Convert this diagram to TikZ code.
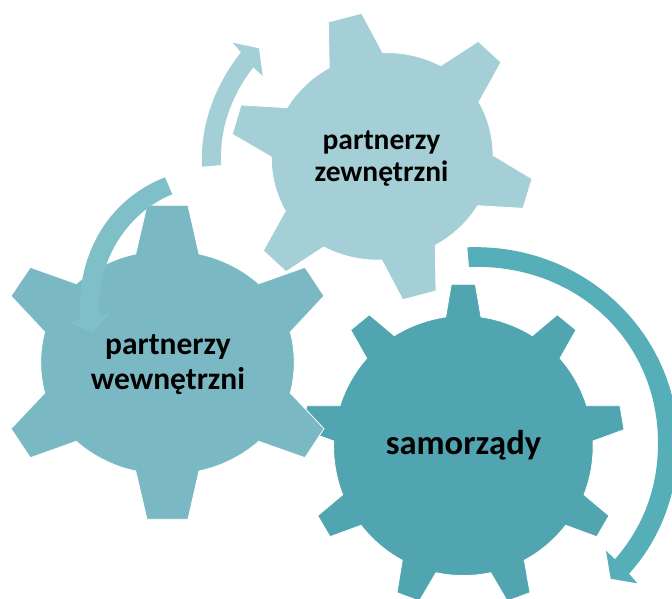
\documentclass[tikz,border=0pt]{standalone}
\usepackage{fontspec}
\setmainfont{Carlito}
\definecolor{lightgear}{HTML}{A5CFD6}
\definecolor{midgear}{HTML}{7AB9C3}
\definecolor{darkgear}{HTML}{50A5B0}
\definecolor{midarrow}{HTML}{7EBFC8}
\definecolor{darkarrow}{HTML}{56AEB9}
\tikzset{
  gearbox/.style={fill=#1,draw=white,line width=.8pt,line join=miter},
  bandbox/.style={fill=#1},
  rim/.style={bend left=15,looseness=.85},
  smallrim/.style={bend left=12,looseness=.85},
  gearlabel/.style 2 args={align=center,text=black,font=\bfseries\fontsize{#1}{#2}\selectfont}
}
\begin{document}
\begin{tikzpicture}[x=1pt,y=-1pt]
\useasboundingbox (0,0) rectangle (672,599);
% samorzady
\path[gearbox=darkgear] (445.7,317) -- (451.3,284.3) -- (475.3,284.3) -- (481,317)
  to[smallrim] (532.3,335.7) -- (557.3,314.7) -- (576,330) -- (560,358.3)
  to[smallrim] (586.7,405.7) -- (620,405.7) -- (624,429.7) -- (593,441)
  to[smallrim] (584,494.7) -- (609,515.7) -- (596.7,536.7) -- (565.7,525.3)
  to[smallrim] (524.3,560.3) -- (530,592.7) -- (507.3,601) -- (490.7,572.7)
  to[smallrim] (436,572.7) -- (419.3,601) -- (397,592.7) -- (402.3,560.3)
  to[smallrim] (361,525.3) -- (330,536.7) -- (317.7,515.7) -- (342.7,494.7)
  to[smallrim] (333.7,441) -- (302.7,429.7) -- (306.7,405.7) -- (340,405.7)
  to[smallrim] (366.7,358.3) -- (350.7,330) -- (369.3,314.7) -- (394.3,335.7)
  to[smallrim] cycle;
% zewnetrzni
\path[gearbox=lightgear] (329.3,67.7) -- (328.3,22) -- (361.7,13.3) -- (382.7,52.7)
  to[rim] (440.7,65.7) -- (478.3,41.3) -- (501,62.3) -- (479,102)
  to[rim] (493,155.3) -- (532,178.7) -- (523,208.3) -- (477.7,205.7)
  to[rim] (435.3,245.3) -- (436,291) -- (402.7,299.7) -- (381.7,260)
  to[rim] (323.7,247) -- (286,271.7) -- (263.3,250.7) -- (285.3,211)
  to[rim] (271.3,157) -- (232.3,134.3) -- (241,105) -- (287,107.7)
  to[rim] cycle;
% wewnetrzni
\path[gearbox=midgear] (135.7,254) -- (147,205.3) -- (188,205.3) -- (199,254)
  to[rim] (258.7,283.7) -- (305,267.3) -- (324,296) -- (290.3,332)
  to[rim] (290.3,393) -- (324,428.7) -- (305,457.7) -- (258.7,441.3)
  to[rim] (199,471) -- (188,519.3) -- (147,519.3) -- (135.7,471)
  to[rim] (76.3,441.3) -- (30.3,457.7) -- (11,428.7) -- (44.7,393)
  to[rim] (44.7,332) -- (11,296) -- (30.3,267.3) -- (76.3,283.7)
  to[rim] cycle;
% arrows
\fill[bandbox=lightgear] (202,166.7) .. controls (200,125) and (215,85) .. (241,52.3)
  -- (232.7,42.7) -- (259,48.3) -- (262.7,76) -- (253.3,67.3)
  .. controls (232,95) and (219,128) .. (221.3,165) -- cycle;
\fill[bandbox=midarrow] (165,177.3) .. controls (112,198) and (76,250) .. (80,319.3)
  -- (68.3,322.3) -- (92.3,332.3) -- (111,313) -- (99,315.3)
  .. controls (96,260) and (128,212) .. (172.3,194.3) -- cycle;
\fill[bandbox=darkarrow] (467.3,247.3) .. controls (586,243) and (678,335) .. (678,443)
  .. controls (678,493) and (660,540) .. (629,573.7)
  -- (637.3,583.3) -- (610.7,578.7) -- (606,550.7) -- (615,559.3)
  .. controls (642,528) and (658,490) .. (658,443)
  .. controls (658,340) and (575,263) .. (469,267) -- cycle;
% labels
\node (zewn) [gearlabel={29.5}{32}] at (381.5,159) {partnerzy\\zewnętrzni};
\node (wewn) [gearlabel={31.5}{35}] at (168,365) {partnerzy\\wewnętrzni};
\node (samo) [gearlabel={34.5}{38}] at (463.5,445) {samorządy};
\end{tikzpicture}
\end{document}
